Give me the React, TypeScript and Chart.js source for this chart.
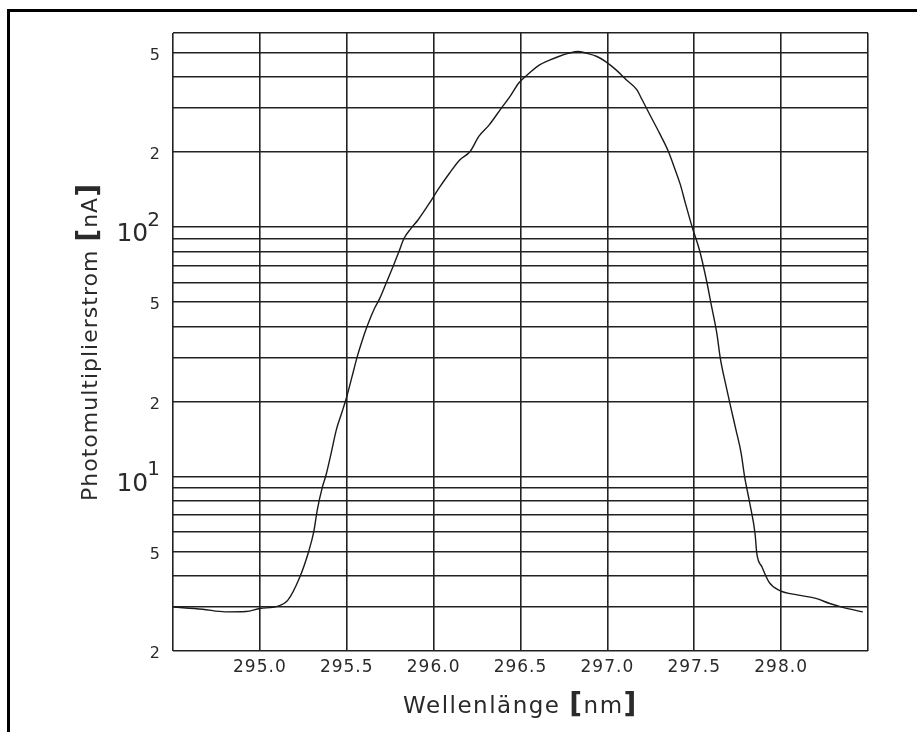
import React, { useEffect, useRef } from "react";
import { Chart, registerables } from "chart.js";

Chart.register(...registerables);

// Wavelength scan of the photomultiplier current
const WAVELENGTH_NM = [
  294.5, 294.67, 294.8, 294.92, 295.0, 295.1, 295.16, 295.23, 295.28, 295.31,
  295.33, 295.36, 295.38, 295.41, 295.44, 295.47, 295.5, 295.53, 295.56, 295.59,
  295.62, 295.66, 295.69, 295.73, 295.77, 295.8, 295.83, 295.87, 295.91, 295.97,
  296.03, 296.09, 296.15, 296.21, 296.26, 296.32, 296.39, 296.44, 296.49, 296.55,
  296.61, 296.67, 296.72, 296.78, 296.83, 296.88, 296.94, 296.99, 297.05, 297.11,
  297.17, 297.2, 297.24, 297.3, 297.35, 297.39, 297.42, 297.45, 297.49, 297.53,
  297.57, 297.6, 297.63, 297.65, 297.68, 297.71, 297.74, 297.77, 297.79, 297.82,
  297.85, 297.86, 297.89, 297.93, 297.99, 298.1, 298.2, 298.28, 298.35, 298.47,
];

const CURRENT_NA = [
  3.0, 2.94, 2.87, 2.88, 2.96, 3.02, 3.19, 3.96, 4.99, 6.0,
  7.33, 9.1, 10.1, 12.4, 15.4, 17.9, 20.9, 25.1, 30.2, 35.3,
  40.5, 47.3, 51.8, 60.4, 70.5, 79.7, 90.2, 98.9, 106.8, 123,
  143, 164, 186, 201, 231, 257, 300, 334, 378, 414,
  447, 468, 483, 498, 506, 498, 483, 461, 427, 389,
  355, 324, 286, 238, 202, 170, 148, 124, 99, 81,
  61.4, 48, 37.5, 29.8, 23.6, 19.0, 15.4, 12.4, 9.98, 7.8,
  5.9, 4.92, 4.34, 3.78, 3.5, 3.35, 3.25, 3.1, 3.0, 2.87,
];

const X_MIN = 294.5;
const X_MAX = 298.5;
const X_TICKS = [295.0, 295.5, 296.0, 296.5, 297.0, 297.5, 298.0];

const Y_MIN = 2;
const Y_MAX = 600;
const Y_GRID = [2, 3, 4, 5, 6, 7, 8, 9, 10, 20, 30, 40, 50, 60, 70, 80, 90, 100, 200, 300, 400, 500];
const Y_LABELS = [2, 5, 10, 20, 50, 100, 200, 500];

const X_TITLE = ["Wellenlänge ", "[", "nm", "]"];
const Y_TITLE = ["Photomultiplierstrom ", "[", "nA", "]"];

const FONT = '"DejaVu Sans"';
const GRID_COLOR = "#222";
const TEXT_COLOR = "#2a2a2a";

type Run = { text: string; font: string };

function drawRuns(ctx: CanvasRenderingContext2D, runs: Run[], x: number, y: number, align: "left" | "center" | "right") {
  const widths = runs.map((r) => {
    ctx.font = r.font;
    return ctx.measureText(r.text).width;
  });
  const total = widths.reduce((a, b) => a + b, 0);
  let cx = align === "center" ? x - total / 2 : align === "right" ? x - total : x;
  ctx.textAlign = "left";
  runs.forEach((r, i) => {
    ctx.font = r.font;
    ctx.fillText(r.text, cx, y);
    cx += widths[i];
  });
}

function titleRuns(parts: string[], size: number, bracketSize: number): Run[] {
  return parts.map((t) =>
    t === "[" || t === "]"
      ? { text: t, font: `bold ${bracketSize}px ${FONT}` }
      : { text: t, font: `${size}px ${FONT}` }
  );
}

const textPlugin = {
  id: "axisText",
  afterDraw(chart: any) {
    const ctx: CanvasRenderingContext2D = chart.ctx;
    const xs = chart.scales.x;
    const ys = chart.scales.y;
    ctx.save();
    ctx.fillStyle = TEXT_COLOR;
    ctx.textBaseline = "alphabetic";

    // x tick labels
    (ctx as any).letterSpacing = "1px";
    ctx.font = `17px ${FONT}`;
    ctx.textAlign = "center";
    X_TICKS.forEach((v) => {
      ctx.fillText(v.toFixed(1), xs.getPixelForValue(v), 672);
    });

    // y tick labels: mantissa digits, powers of ten with superscript
    (ctx as any).letterSpacing = "0px";
    Y_LABELS.forEach((v) => {
      const py = ys.getPixelForValue(v);
      const exp = Math.log10(v);
      if (Math.abs(exp - Math.round(exp)) < 1e-9) {
        const sup = String(Math.round(exp));
        ctx.font = `20px ${FONT}`;
        ctx.textAlign = "right";
        ctx.fillText(sup, 160, py - 1.5);
        const supW = ctx.measureText(sup).width;
        ctx.font = `25px ${FONT}`;
        ctx.fillText("10", 160 - supW + 1, py + 14);
      } else {
        const mant = Math.round(v / Math.pow(10, Math.floor(exp)));
        ctx.font = `16px ${FONT}`;
        ctx.textAlign = "right";
        ctx.fillText(String(mant), 160, py + 7);
      }
    });

    // axis titles
    (ctx as any).letterSpacing = "1.5px";
    drawRuns(ctx, titleRuns(X_TITLE, 23, 28), (chart.chartArea.left + chart.chartArea.right) / 2, 713, "center");

    (ctx as any).letterSpacing = "1px";
    ctx.translate(97, (chart.chartArea.top + chart.chartArea.bottom) / 2);
    ctx.rotate(-Math.PI / 2);
    drawRuns(ctx, titleRuns(Y_TITLE, 22, 28), 0, 0, "center");
    ctx.restore();

    // outer frame (top and left edges)
    ctx.save();
    ctx.fillStyle = "#000";
    ctx.fillRect(7, 9, 910, 3);
    ctx.fillRect(7, 9, 3, 723);
    ctx.restore();
  },
};

export default function App() {
  const ref = useRef<HTMLCanvasElement>(null);

  useEffect(() => {
    const canvas = ref.current;
    if (!canvas) return;
    const chart = new Chart(canvas, {
      type: "scatter",
      data: {
        datasets: [
          {
            data: WAVELENGTH_NM.map((x, i) => ({ x, y: CURRENT_NA[i] })),
            showLine: true,
            borderColor: "#1a1a1a",
            borderWidth: 1.4,
            pointRadius: 0,
            cubicInterpolationMode: "monotone",
            fill: false,
          },
        ],
      },
      options: {
        responsive: false,
        animation: false,
        events: [],
        layout: { padding: { top: 33, right: 49, left: 0, bottom: 0 } },
        plugins: { legend: { display: false }, tooltip: { enabled: false } },
        scales: {
          x: {
            type: "linear",
            min: X_MIN,
            max: X_MAX,
            afterBuildTicks: (s: any) => {
              s.ticks = [X_MIN, ...X_TICKS, X_MAX].map((value) => ({ value }));
            },
            afterFit: (s: any) => {
              s.height = 81;
            },
            ticks: { display: false },
            grid: { color: GRID_COLOR, lineWidth: 1.6, drawTicks: false },
            border: { display: false },
          },
          y: {
            type: "logarithmic",
            min: Y_MIN,
            max: Y_MAX,
            afterBuildTicks: (s: any) => {
              s.ticks = [...Y_GRID, Y_MAX].map((value) => ({ value }));
            },
            afterFit: (s: any) => {
              s.width = 173;
            },
            ticks: { display: false },
            grid: { color: GRID_COLOR, lineWidth: 1.6, drawTicks: false },
            border: { display: false },
          },
        },
      },
      plugins: [textPlugin],
    });
    return () => chart.destroy();
  }, []);

  return (
    <div style={{ position: "absolute", left: 0, top: 0, width: 917, height: 732, background: "#fff" }}>
      <canvas ref={ref} width={917} height={732} style={{ display: "block" }} />
    </div>
  );
}
